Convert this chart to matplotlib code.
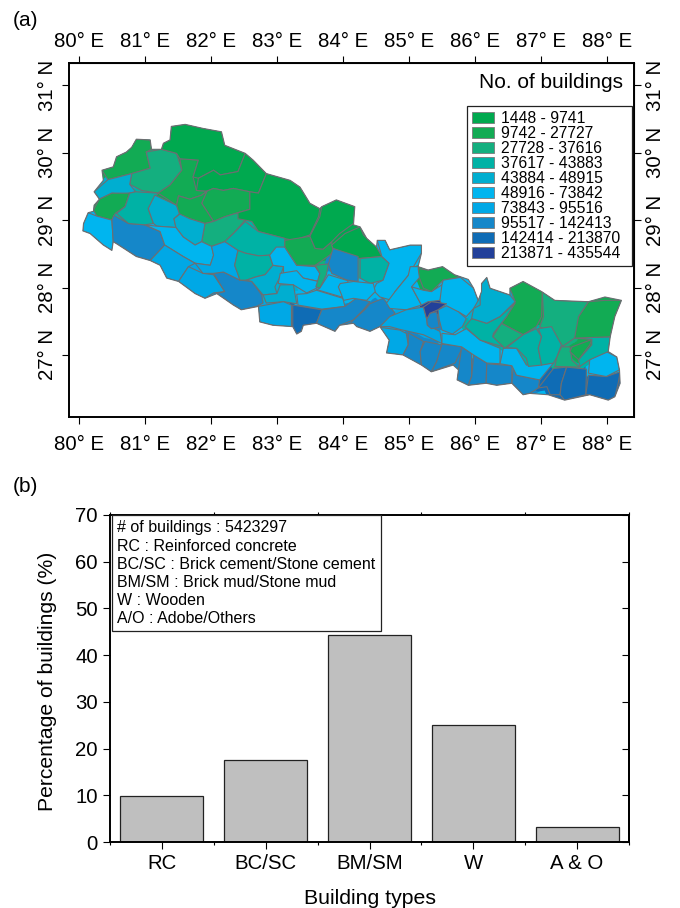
import matplotlib
matplotlib.use('Agg')
import matplotlib.pyplot as plt
from matplotlib.patches import Polygon, Patch, Rectangle

plt.rcParams['font.family'] = ['Liberation Sans', 'DejaVu Sans']

# district outlines, (lon, lat)
d01 = [(80.35,29.74),(80.52,29.79),(80.57,29.94),(80.72,30.01),(80.87,30.20),(81.08,30.19),(81.10,30.05),(81.02,30.01),(81.08,29.77),(80.80,29.69),(80.44,29.60)]
d02 = [(81.02,30.01),(81.25,30.05),(81.48,29.99),(81.56,29.74),(81.38,29.52),(81.20,29.40),(80.95,29.44),(80.77,29.53),(80.80,29.69),(81.08,29.77)]
d03 = [(80.44,29.60),(80.80,29.69),(80.77,29.53),(80.86,29.42),(80.67,29.38),(80.50,29.40),(80.31,29.31),(80.23,29.42)]
d04 = [(80.31,29.31),(80.50,29.40),(80.77,29.40),(80.70,29.20),(80.55,29.10),(80.50,29.00),(80.27,29.06),(80.22,29.15)]
d05 = [(80.14,29.11),(80.27,29.06),(80.50,29.00),(80.52,28.68),(80.50,28.55),(80.37,28.63),(80.17,28.80),(80.06,28.84),(80.07,28.95)]
d06 = [(80.53,29.07),(80.75,28.95),(81.00,28.93),(81.23,28.83),(81.30,28.63),(81.08,28.40),(80.87,28.46),(80.57,28.65),(80.52,28.68),(80.50,29.00)]
d07 = [(80.77,29.40),(80.86,29.42),(81.20,29.40),(81.05,29.17),(81.13,28.95),(81.00,28.93),(80.75,28.95),(80.57,29.10),(80.70,29.20)]
d08 = [(81.15,29.37),(81.48,29.22),(81.53,29.10),(81.44,29.02),(81.47,28.89),(81.18,28.91),(81.13,28.95),(81.05,29.17)]
d09 = [(81.56,29.74),(81.53,29.91),(81.81,29.89),(81.73,29.64),(81.78,29.44),(81.94,29.43),(81.86,29.37),(81.68,29.31),(81.51,29.36),(81.48,29.22),(81.20,29.40),(81.38,29.52)]
d10 = [(81.25,30.05),(81.28,30.14),(81.38,30.19),(81.40,30.39),(81.61,30.42),(82.16,30.31),(82.21,30.11),(82.52,29.99),(82.41,29.72),(82.14,29.67),(82.04,29.74),(81.81,29.62),(81.73,29.64),(81.81,29.89),(81.53,29.91),(81.48,29.99)]
d11 = [(82.52,29.99),(82.64,29.89),(82.84,29.69),(82.72,29.40),(82.59,29.42),(82.34,29.47),(82.19,29.44),(82.04,29.47),(81.94,29.43),(81.78,29.44),(81.81,29.62),(82.04,29.74),(82.14,29.67),(82.41,29.72)]
d12 = [(81.94,29.43),(82.04,29.47),(82.19,29.44),(82.34,29.47),(82.59,29.42),(82.59,29.16),(82.41,29.11),(82.21,29.05),(82.04,28.98),(81.86,29.25)]
d13 = [(81.51,29.36),(81.68,29.31),(81.86,29.37),(81.94,29.43),(81.86,29.25),(82.04,28.98),(81.91,28.95),(81.68,29.02),(81.53,29.07),(81.48,29.22)]
d14 = [(81.91,28.95),(82.04,28.98),(82.21,29.05),(82.41,29.11),(82.52,29.00),(82.34,28.80),(82.21,28.68),(82.01,28.61),(81.86,28.68)]
d15 = [(81.44,29.02),(81.53,29.09),(81.68,29.02),(81.91,28.95),(81.86,28.68),(81.76,28.63),(81.58,28.75),(81.47,28.89)]
d16 = [(82.84,29.69),(83.20,29.59),(83.35,29.49),(83.50,29.25),(83.65,29.17),(83.63,29.05),(83.50,28.78),(83.25,28.70),(83.10,28.73),(82.84,28.80),(82.72,28.83),(82.62,28.98),(82.41,29.02),(82.41,29.11),(82.59,29.16),(82.59,29.42),(82.72,29.40)]
d17 = [(82.52,28.98),(82.72,28.83),(82.84,28.80),(83.12,28.73),(83.12,28.60),(82.89,28.48),(82.72,28.47),(82.52,28.51),(82.41,28.55),(82.21,28.68),(82.34,28.80)]
d18 = [(81.00,28.93),(81.18,28.91),(81.47,28.89),(81.58,28.75),(81.76,28.63),(81.86,28.68),(82.01,28.61),(82.04,28.48),(81.99,28.33),(81.76,28.36),(81.58,28.46),(81.30,28.63),(81.23,28.83)]
d19 = [(81.30,28.63),(81.58,28.46),(81.76,28.36),(81.66,28.31),(81.51,28.09),(81.33,28.14),(81.23,28.33),(81.08,28.40)]
d20 = [(81.66,28.31),(81.88,28.21),(82.04,28.19),(82.21,27.94),(82.04,27.92),(81.91,27.84),(81.76,27.91),(81.51,28.09)]
d21 = [(82.04,28.21),(82.19,28.23),(82.44,28.11),(82.62,28.09),(82.77,27.89),(82.79,27.77),(82.69,27.72),(82.46,27.67),(82.34,27.74),(82.09,27.91),(82.21,27.94)]
d22 = [(82.01,28.61),(82.21,28.68),(82.41,28.55),(82.36,28.33),(82.41,28.21),(82.44,28.11),(82.19,28.23),(82.04,28.21),(81.88,28.21),(81.76,28.36),(81.99,28.33),(82.04,28.48)]
d23 = [(82.41,28.55),(82.52,28.51),(82.72,28.47),(82.89,28.48),(82.94,28.33),(82.82,28.19),(82.69,28.16),(82.54,28.11),(82.44,28.11),(82.36,28.33)]
d24 = [(82.94,28.33),(83.10,28.31),(83.05,28.16),(82.97,28.01),(83.00,27.91),(82.79,27.89),(82.62,28.09),(82.54,28.11),(82.69,28.16),(82.82,28.19)]
d25 = [(82.89,28.48),(82.99,28.60),(83.12,28.60),(83.30,28.33),(83.58,28.31),(83.65,28.21),(83.63,28.09),(83.40,28.14),(83.30,28.21),(83.10,28.21),(83.10,28.31),(82.94,28.33)]
d26 = [(83.05,28.21),(83.30,28.25),(83.40,28.14),(83.63,28.09),(83.60,27.99),(83.45,27.92),(83.25,28.04),(83.02,28.06)]
d27 = [(82.79,27.89),(83.00,27.91),(83.05,28.04),(83.25,28.04),(83.30,27.76),(83.10,27.79),(82.84,27.77)]
d28 = [(82.72,27.72),(83.10,27.79),(83.22,27.74),(83.22,27.42),(82.94,27.44),(82.74,27.49)]
d29 = [(83.24,27.74),(83.68,27.67),(83.60,27.47),(83.40,27.44),(83.37,27.35),(83.30,27.31),(83.24,27.42)]
d30 = [(83.30,27.90),(83.45,27.91),(83.60,27.96),(84.00,27.84),(84.03,27.72),(83.68,27.68),(83.32,27.74)]
d31 = [(83.60,27.47),(83.68,27.67),(84.03,27.72),(84.20,27.84),(84.41,27.79),(84.31,27.67),(84.16,27.52),(83.95,27.44),(83.88,27.35)]
d32 = [(84.16,27.52),(84.33,27.67),(84.41,27.76),(84.61,27.84),(84.79,27.62),(84.56,27.42),(84.41,27.35),(84.21,27.42),(84.08,27.43)]
d33 = [(83.12,28.70),(83.50,28.76),(83.58,28.58),(83.70,28.57),(83.83,28.68),(83.85,28.53),(83.80,28.48),(83.58,28.33),(83.30,28.33),(83.12,28.60)]
d34 = [(83.50,28.76),(83.65,29.05),(83.68,29.20),(83.90,29.30),(84.18,29.20),(84.16,28.95),(83.95,28.80),(83.83,28.68),(83.70,28.57),(83.58,28.58)]
d35 = [(83.83,28.63),(84.03,28.80),(84.26,28.90),(84.31,28.78),(84.51,28.60),(84.59,28.46),(84.23,28.43),(83.85,28.58)]
d36 = [(83.58,28.33),(83.78,28.35),(83.75,28.19),(83.65,27.99),(83.59,28.01),(83.65,28.21)]
d37 = [(83.85,28.58),(84.23,28.46),(84.23,28.09),(84.06,28.11),(83.83,28.21),(83.78,28.35)]
d38 = [(84.26,28.43),(84.59,28.46),(84.70,28.36),(84.61,28.11),(84.41,28.06),(84.26,28.14)]
d39 = [(84.52,28.70),(84.64,28.70),(84.71,28.56),(85.02,28.63),(85.19,28.63),(85.19,28.51),(84.99,28.18),(84.79,27.94),(84.74,27.81),(84.56,27.86),(84.46,27.96),(84.51,28.06),(84.61,28.11),(84.70,28.36),(84.59,28.46)]
d40 = [(83.65,27.99),(83.78,28.19),(84.08,28.10),(83.98,27.86),(83.60,27.97)]
d41 = [(83.93,28.01),(83.96,28.06),(84.16,28.09),(84.46,28.06),(84.49,27.94),(84.36,27.81),(84.16,27.84),(84.01,27.81),(83.98,27.89)]
d42 = [(85.02,28.31),(85.14,28.31),(85.17,28.16),(85.04,28.01),(85.19,27.74),(84.96,27.67),(84.71,27.69),(84.66,27.77),(84.79,27.94),(84.99,28.18)]
d43 = [(85.04,28.01),(85.22,27.96),(85.34,27.94),(85.50,28.04),(85.52,27.94),(85.47,27.81),(85.29,27.79),(85.19,27.74)]
d44 = [(85.14,28.28),(85.29,28.26),(85.51,28.31),(85.69,28.19),(85.78,28.15),(85.52,28.11),(85.34,27.94),(85.22,27.99),(85.16,28.14)]
d45 = [(85.52,28.11),(85.78,28.15),(85.98,27.99),(86.05,27.81),(85.98,27.69),(85.87,27.57),(85.75,27.64),(85.52,27.69),(85.47,27.81),(85.50,28.04)]
d46 = [(84.71,27.57),(84.96,27.67),(85.22,27.71),(85.27,27.53),(85.28,27.44),(85.47,27.35),(85.50,27.17),(85.22,27.30),(84.86,27.38),(84.71,27.42),(84.56,27.42)]
d47 = [(85.44,27.67),(85.57,27.73),(85.75,27.64),(85.87,27.54),(85.81,27.42),(85.66,27.31),(85.50,27.37),(85.46,27.52)]
d48 = [(85.27,27.53),(85.32,27.62),(85.42,27.64),(85.46,27.41),(85.34,27.39),(85.28,27.44)]
d49 = [(85.22,27.71),(85.34,27.79),(85.57,27.76),(85.44,27.67),(85.32,27.62),(85.27,27.53)]
d50 = [(84.56,27.41),(84.86,27.37),(84.96,27.32),(84.99,27.15),(84.91,27.00),(84.66,27.03),(84.70,27.22)]
d51 = [(84.99,27.33),(85.22,27.20),(85.17,27.05),(85.19,26.85),(85.04,26.90),(84.91,27.00),(84.99,27.15)]
d52 = [(85.24,27.20),(85.50,27.15),(85.42,26.90),(85.34,26.75),(85.19,26.85),(85.17,27.05)]
d53 = [(85.50,27.16),(85.82,27.13),(85.70,26.88),(85.34,26.75),(85.42,26.90)]
d54 = [(85.80,27.12),(85.95,27.02),(85.95,26.68),(85.90,26.55),(85.73,26.63),(85.75,26.78)]
d55 = [(85.98,27.00),(86.18,26.88),(86.17,26.58),(85.90,26.55),(85.95,26.68)]
d56 = [(86.18,26.87),(86.56,26.84),(86.56,26.58),(86.33,26.55),(86.17,26.58)]
d57 = [(86.58,26.83),(86.63,26.70),(86.98,26.63),(86.96,26.51),(86.83,26.43),(86.73,26.41),(86.56,26.58)]
d58 = [(85.50,27.32),(85.70,27.30),(85.87,27.39),(86.08,27.22),(86.38,27.10),(86.38,26.87),(86.18,26.88),(85.98,27.00),(85.80,27.12),(85.50,27.17)]
d59 = [(86.43,27.10),(86.63,27.10),(86.78,26.85),(87.19,26.88),(86.98,26.63),(86.63,26.70),(86.56,26.84),(86.38,26.87)]
d60 = [(87.19,26.80),(87.39,26.82),(87.31,26.58),(87.29,26.41),(87.14,26.41),(87.09,26.53),(86.96,26.51)]
d61 = [(87.39,26.82),(87.69,26.79),(87.68,26.41),(87.36,26.33),(87.29,26.41),(87.31,26.58)]
d62 = [(87.72,26.70),(87.99,26.68),(88.20,26.75),(88.17,26.58),(88.12,26.38),(88.02,26.33),(87.74,26.41),(87.68,26.41)]
d63 = [(87.74,26.93),(87.99,27.05),(88.15,26.97),(88.19,26.78),(87.99,26.68),(87.72,26.73)]
d64 = [(87.24,26.97),(87.31,27.12),(87.44,27.12),(87.47,26.92),(87.59,26.82),(87.21,26.83)]
d65 = [(87.51,27.25),(88.05,27.27),(88.02,27.05),(87.74,26.93),(87.59,26.83),(87.57,26.93),(87.77,27.15),(87.77,27.23)]
d66 = [(87.47,27.12),(87.77,27.23),(87.74,27.15),(87.57,26.93),(87.44,27.05)]
d67 = [(87.57,27.57),(87.72,27.79),(87.97,27.81),(88.22,27.81),(88.12,27.57),(88.05,27.27),(87.51,27.25),(87.51,27.42)]
d68 = [(87.02,27.94),(87.21,27.81),(87.72,27.79),(87.57,27.57),(87.51,27.25),(87.33,27.13),(87.21,27.30),(86.98,27.42),(87.04,27.57)]
d69 = [(86.53,27.99),(86.73,28.09),(87.02,27.94),(87.01,27.57),(86.93,27.42),(86.73,27.30),(86.40,27.47),(86.48,27.57),(86.61,27.79)]
d70 = [(86.27,27.27),(86.40,27.47),(86.73,27.30),(86.45,27.10),(86.33,27.20)]
d71 = [(86.48,27.11),(86.73,27.30),(86.93,27.39),(87.01,27.27),(86.96,27.10),(87.01,26.85),(86.81,26.83),(86.78,26.95),(86.63,27.10)]
d72 = [(86.96,27.39),(87.16,27.42),(87.31,27.15),(87.24,26.97),(87.19,26.88),(87.01,26.85),(86.96,27.10),(87.01,27.27)]
d73 = [(85.85,27.42),(85.95,27.54),(86.18,27.47),(86.38,27.57),(86.61,27.77),(86.48,27.57),(86.28,27.32),(86.27,27.27),(86.43,27.12),(86.08,27.22)]
d74 = [(86.08,27.74),(86.08,27.86),(86.10,28.06),(86.18,28.15),(86.23,27.99),(86.53,27.89),(86.61,27.79),(86.38,27.57),(86.18,27.47),(85.95,27.54),(85.98,27.69)]

district_shapes = [d01, d02, d03, d04, d05, d06, d07, d08, d09, d10, d11, d12, d13, d14, d15,
                   d16, d17, d18, d19, d20, d21, d22, d23, d24, d25, d26, d27, d28, d29, d30,
                   d31, d32, d33, d34, d35, d36, d37, d38, d39, d40, d41, d42, d43, d44, d45,
                   d46, d47, d48, d49, d50, d51, d52, d53, d54, d55, d56, d57, d58, d59, d60,
                   d61, d62, d63, d64, d65, d66, d67, d68, d69, d70, d71, d72, d73, d74]
# class of each district, 0 = first legend row
district_class = [1, 2, 4, 1, 5, 7, 3, 4, 1, 0, 0, 1, 1, 2, 4,
                  0, 3, 5, 6, 6, 7, 6, 3, 4, 5, 5, 4, 6, 8, 5,
                  7, 7, 1, 0, 0, 2, 7, 3, 5, 5, 5, 5, 5, 1, 5,
                  6, 6, 7, 9, 6, 7, 7, 7, 7, 7, 7, 7, 5, 5, 8,
                  8, 8, 5, 2, 3, 1, 1, 2, 1, 2, 3, 3, 3, 4]

# outline of the whole country
country = [(80.06,28.84),(80.07,28.95),(80.14,29.11),(80.22,29.13),(80.23,29.22),(80.31,29.31),(80.23,29.42),(80.37,29.59),
           (80.35,29.74),(80.52,29.79),(80.57,29.94),(80.72,30.01),(80.80,30.08),(80.87,30.20),(81.08,30.19),(81.10,30.05),
           (81.25,30.05),(81.28,30.14),(81.38,30.19),(81.40,30.39),(81.61,30.42),(81.88,30.36),(82.16,30.31),(82.21,30.11),
           (82.52,29.99),(82.64,29.89),(82.84,29.69),(83.20,29.59),(83.35,29.49),(83.50,29.25),(83.65,29.17),(83.68,29.20),
           (83.90,29.30),(84.18,29.20),(84.16,28.93),(84.26,28.90),(84.36,28.73),(84.51,28.60),(84.52,28.70),(84.64,28.70),
           (84.71,28.56),(85.02,28.63),(85.19,28.63),(85.19,28.51),(85.14,28.31),(85.29,28.26),(85.51,28.31),(85.69,28.19),
           (85.90,28.12),(85.98,27.99),(86.05,27.81),(86.10,27.94),(86.10,28.06),(86.18,28.15),(86.23,27.99),(86.53,27.89),
           (86.53,27.99),(86.73,28.09),(87.01,27.94),(87.21,27.81),(87.72,27.79),(87.97,27.86),(88.22,27.81),(88.12,27.57),
           (88.05,27.27),(88.02,27.05),(88.15,26.97),(88.19,26.78),(88.20,26.58),(88.12,26.38),(88.02,26.33),(87.74,26.41),
           (87.36,26.33),(87.11,26.41),(86.83,26.43),(86.73,26.41),(86.56,26.58),(86.33,26.55),(86.17,26.58),(85.90,26.55),
           (85.73,26.63),(85.75,26.78),(85.67,26.85),(85.34,26.75),(85.19,26.85),(84.91,27.00),(84.66,27.03),(84.70,27.22),
           (84.56,27.42),(84.41,27.35),(84.21,27.42),(84.16,27.47),(83.95,27.44),(83.88,27.35),(83.60,27.47),(83.40,27.44),
           (83.37,27.35),(83.30,27.31),(83.24,27.42),(82.94,27.44),(82.74,27.49),(82.72,27.72),(82.46,27.67),(82.34,27.74),
           (82.09,27.91),(81.91,27.84),(81.76,27.91),(81.51,28.09),(81.33,28.14),(81.23,28.33),(81.08,28.40),(80.87,28.46),
           (80.57,28.65),(80.52,28.68),(80.50,28.55),(80.37,28.63),(80.17,28.80)]

class_labels = ['1448 - 9741', '9742 - 27727', '27728 - 37616', '37617 - 43883', '43884 - 48915',
                '48916 - 73842', '73843 - 95516', '95517 - 142413', '142414 - 213870', '213871 - 435544']
class_colors = ['#00a94f', '#12ab54', '#14af7f', '#00b2a5', '#00aed0',
                '#00b5ef', '#00a8e6', '#1587c9', '#0f6cb5', '#22409a']

lon_ticks = [80, 81, 82, 83, 84, 85, 86, 87, 88]
lat_ticks = [27, 28, 29, 30, 31]

building_types = ['RC', 'BC/SC', 'BM/SM', 'W', 'A & O']
building_pct = [9.9, 17.6, 44.3, 25.0, 3.3]
note_lines = ['# of buildings : 5423297', 'RC : Reinforced concrete',
              'BC/SC : Brick cement/Stone cement', 'BM/SM : Brick mud/Stone mud',
              'W : Wooden', 'A/O : Adobe/Others']

W, H = 680.0, 908.0
edge = '#6d6e71'
fig = plt.figure(figsize=(6.8, 9.08), dpi=100)

# (a) map
ax = fig.add_axes([69/W, 1-417/H, 565/W, 354/H])
land = Polygon(country, closed=True, facecolor=class_colors[5], edgecolor='none')
ax.add_patch(land)
# fat fills first so gaps between neighbours close up
for shape, c in zip(district_shapes, district_class):
    p = Polygon(shape, closed=True, facecolor=class_colors[c], edgecolor=class_colors[c], lw=5, joinstyle='round')
    ax.add_patch(p)
    p.set_clip_path(land)
for shape, c in zip(district_shapes, district_class):
    p = Polygon(shape, closed=True, facecolor=class_colors[c], edgecolor=edge, lw=0.8, joinstyle='round')
    ax.add_patch(p)
    p.set_clip_path(land)
ax.add_patch(Polygon(country, closed=True, facecolor='none', edgecolor=edge, lw=0.8, joinstyle='round'))

ax.set_xlim(79.85, 88.41)
ax.set_ylim(26.08, 31.33)
ax.set_xticks(lon_ticks)
ax.set_yticks(lat_ticks)
ax.set_xticklabels(['%d\u00b0 E' % v for v in lon_ticks])
ax.set_yticklabels(['%d\u00b0 N' % v for v in lat_ticks], rotation=90, va='center')
ax.tick_params(length=4.8, width=0.8, labelsize=14.7)
ax.tick_params(axis='x', pad=8)
ax.tick_params(axis='y', pad=4)
for s in ax.spines.values():
    s.set_linewidth(1.4)

top = ax.secondary_xaxis('top')
top.set_xticks(lon_ticks)
top.set_xticklabels(['%d\u00b0 E' % v for v in lon_ticks])
top.tick_params(length=4.8, width=0.8, labelsize=14.7, pad=4)
rgt = ax.secondary_yaxis('right')
rgt.set_yticks(lat_ticks)
rgt.set_yticklabels(['%d\u00b0 N' % v for v in lat_ticks], rotation=90, va='center')
rgt.tick_params(length=4.8, width=0.8, labelsize=14.7, pad=4)

ax.text(623/W, 1-83/H, 'No. of buildings', transform=fig.transFigure, ha='right', va='center', fontsize=15)
ax.add_patch(Rectangle((467/W, 1-266/H), 165/W, 160/H, transform=fig.transFigure,
                       facecolor='white', edgecolor='#222222', lw=0.9, zorder=4))
handles = [Patch(facecolor=c, edgecolor='#7a7a7a', lw=0.6) for c in class_colors]
ax.legend(handles, class_labels, loc='upper left', bbox_to_anchor=(467/W, 1-106/H),
          bbox_transform=fig.transFigure, fontsize=11.3, frameon=False,
          borderaxespad=0, borderpad=0.33,
          handlelength=1.4, handleheight=0.72, handletextpad=0.42, labelspacing=0.0)

# (b) bars
ax2 = fig.add_axes([110/W, 1-842/H, 519/W, 327/H])
ax2.bar(range(5), building_pct, width=0.8, color='#bfbfbf', edgecolor='#222222', lw=0.9)
ax2.set_xlim(-0.5, 4.5)
ax2.set_ylim(0, 70)
ax2.set_xticks(range(5))
ax2.set_xticklabels(building_types)
ax2.set_xticks([-0.5, 0.5, 1.5, 2.5, 3.5, 4.5], minor=True)
ax2.set_yticks(range(0, 71, 10))
ax2.tick_params(axis='both', which='major', length=4.8, width=0.8, labelsize=14.7, pad=4)
ax2.tick_params(axis='x', which='minor', length=2.2, width=0.8, top=True)
for s in ax2.spines.values():
    s.set_linewidth(1.4)
right = ax2.secondary_yaxis('right')
right.set_yticks(range(0, 71, 10))
right.tick_params(direction='in', length=4.8, width=0.8, labelright=False)
right.spines['right'].set_linewidth(1.4)

ax2.set_xlabel('Building types', fontsize=15.3, labelpad=11)
ax2.set_ylabel('Percentage of buildings (%)', fontsize=15.2, labelpad=13, y=0.49)
ax2.text(117/W, 1-626/H, '\n'.join(note_lines), transform=fig.transFigure, fontsize=11.5, ha='left', va='bottom',
         linespacing=1.26, zorder=5,
         bbox=dict(boxstyle='square,pad=0.33', facecolor='white', edgecolor='#222222', lw=0.9))

fig.text(13/W, 1-20/H, '(a)', fontsize=15, va='center')
fig.text(13/W, 1-487/H, '(b)', fontsize=15, va='center')

fig.savefig('out.png', dpi=100)
